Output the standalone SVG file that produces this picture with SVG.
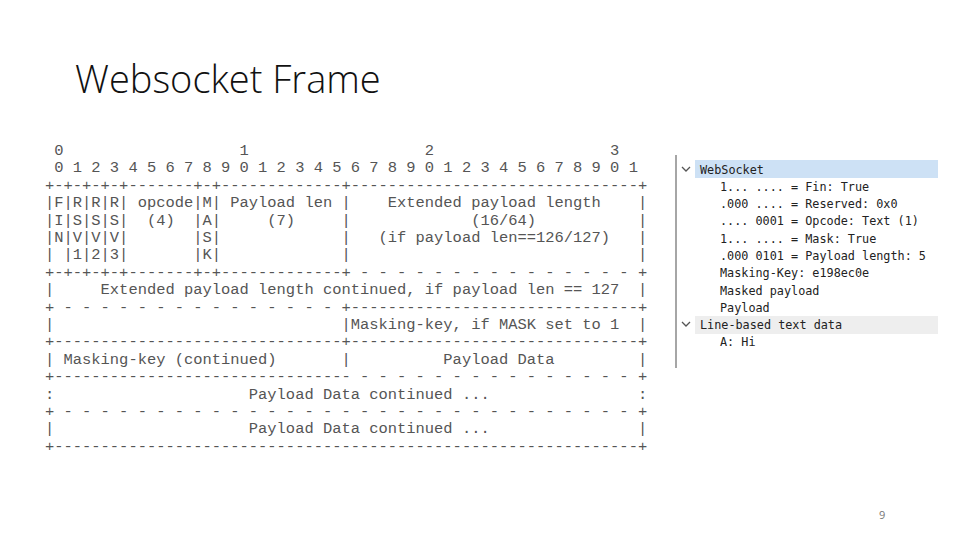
<svg xmlns="http://www.w3.org/2000/svg" width="960" height="540" viewBox="0 0 960 540">
<style>
.a{font-family:"Liberation Mono",monospace;font-size:15.45px;fill:#555}
.w{font-family:"DejaVu Sans Mono",monospace;font-size:11.8px;fill:#222}
</style>
<rect width="960" height="540" fill="#fff"/>
<text x="75" y="93" font-family="Open Sans, sans-serif" font-size="38" font-weight="300" fill="#111">Websocket Frame</text>
<g id="frame" class="a">
<text xml:space="preserve" x="45" y="155"> 0                   1                   2                   3</text>
<text xml:space="preserve" x="45" y="172.4"> 0 1 2 3 4 5 6 7 8 9 0 1 2 3 4 5 6 7 8 9 0 1 2 3 4 5 6 7 8 9 0 1</text>
<text xml:space="preserve" x="45" y="189.8">+-+-+-+-+-------+-+-------------+-------------------------------+</text>
<text xml:space="preserve" x="45" y="207.2">|F|R|R|R| opcode|M| Payload len |    Extended payload length    |</text>
<text xml:space="preserve" x="45" y="224.6">|I|S|S|S|  (4)  |A|     (7)     |             (16/64)           |</text>
<text xml:space="preserve" x="45" y="242">|N|V|V|V|       |S|             |   (if payload len==126/127)   |</text>
<text xml:space="preserve" x="45" y="259.4">| |1|2|3|       |K|             |                               |</text>
<text xml:space="preserve" x="45" y="276.8">+-+-+-+-+-------+-+-------------+ - - - - - - - - - - - - - - - +</text>
<text xml:space="preserve" x="45" y="294.2">|     Extended payload length continued, if payload len == 127  |</text>
<text xml:space="preserve" x="45" y="311.6">+ - - - - - - - - - - - - - - - +-------------------------------+</text>
<text xml:space="preserve" x="45" y="329">|                               |Masking-key, if MASK set to 1  |</text>
<text xml:space="preserve" x="45" y="346.4">+-------------------------------+-------------------------------+</text>
<text xml:space="preserve" x="45" y="363.8">| Masking-key (continued)       |          Payload Data         |</text>
<text xml:space="preserve" x="45" y="381.2">+-------------------------------- - - - - - - - - - - - - - - - +</text>
<text xml:space="preserve" x="45" y="398.6">:                     Payload Data continued ...                :</text>
<text xml:space="preserve" x="45" y="416">+ - - - - - - - - - - - - - - - - - - - - - - - - - - - - - - - +</text>
<text xml:space="preserve" x="45" y="433.4">|                     Payload Data continued ...                |</text>
<text xml:space="preserve" x="45" y="450.8">+---------------------------------------------------------------+</text>
</g>
<g id="wireshark">
<line x1="676" y1="155" x2="676" y2="368" stroke="#888" stroke-width="1.5"/>
<rect x="695" y="160" width="243" height="18" fill="#cde1f5"/>
<rect x="695" y="316" width="243" height="18" fill="#eeeeee"/>
<path d="M682 167l4 4 4-4M682 322l4 4 4-4" fill="none" stroke="#555" stroke-width="1.3"/>
<g class="w">
<text x="700" y="174">WebSocket</text>
<text xml:space="preserve" x="720" y="191">1... .... = Fin: True</text>
<text xml:space="preserve" x="720" y="208">.000 .... = Reserved: 0x0</text>
<text xml:space="preserve" x="720" y="225">.... 0001 = Opcode: Text (1)</text>
<text xml:space="preserve" x="720" y="243">1... .... = Mask: True</text>
<text xml:space="preserve" x="720" y="260">.000 0101 = Payload length: 5</text>
<text x="720" y="277">Masking-Key: e198ec0e</text>
<text x="720" y="295">Masked payload</text>
<text x="720" y="312">Payload</text>
<text x="700" y="329">Line-based text data</text>
<text x="720" y="346">A: Hi</text>
</g>
</g>
<text x="879" y="519" font-family="Open Sans, sans-serif" font-size="11" fill="#777">9</text>
</svg>
